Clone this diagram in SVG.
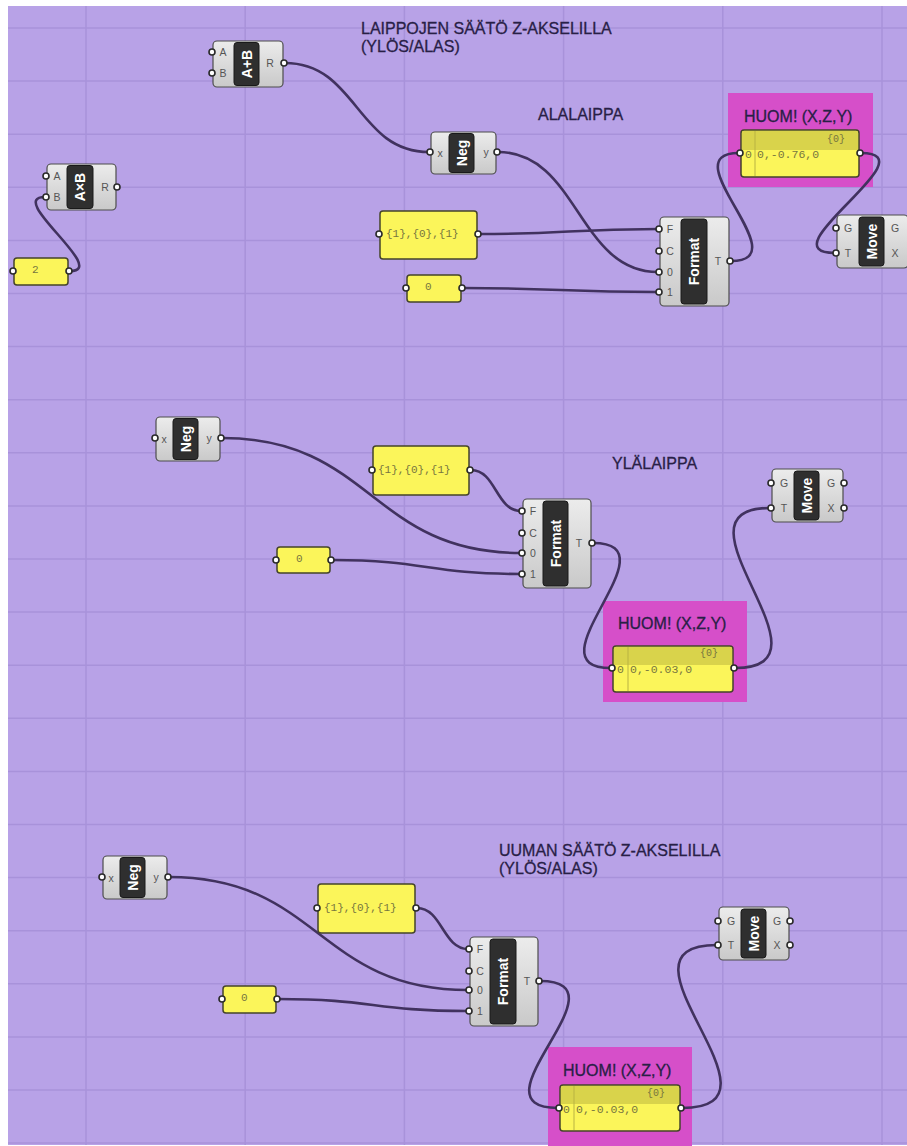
<svg xmlns="http://www.w3.org/2000/svg" width="907" height="1146" viewBox="0 0 907 1146">
<defs>
<linearGradient id="gb" x1="0" y1="0" x2="0" y2="1">
<stop offset="0" stop-color="#ececec"/>
<stop offset="1" stop-color="#c9c9c9"/>
</linearGradient>
<style>
.bg{fill:#b8a2e7}
.grid{stroke:#a892da;stroke-width:1.5;fill:none}
.wire{fill:none;stroke:#41325f;stroke-width:2.6;stroke-linecap:round}
.body{fill:url(#gb);stroke:#4d4d4d;stroke-width:1.2}
.core{fill:#2f2f2f;stroke:#1a1a1a;stroke-width:1}
.name{fill:#ffffff;font-family:"Liberation Sans",Arial,sans-serif;font-weight:bold;font-size:14px;text-anchor:middle;dominant-baseline:central}
.lbl{fill:#555555;font-family:"Liberation Sans",Arial,sans-serif;font-size:10.5px;text-anchor:middle;dominant-baseline:central}
.port{fill:#ffffff;stroke:#2a2a2a;stroke-width:1.6}
.panel{fill:#fbf55a;stroke:#44442a;stroke-width:1.5}
.strip{fill:#d9d34b}
.sep{stroke:#b9b343;stroke-width:1}
.ptxt{fill:#77753f;font-family:"Liberation Mono","Courier New",monospace;font-size:11px;dominant-baseline:central}
.ptxs{fill:#77753f;font-family:"Liberation Mono","Courier New",monospace;font-size:11.5px}
.ptxm{fill:#77753f;font-family:"Liberation Mono","Courier New",monospace;font-size:10px}
.grp{fill:#d64fc9}
.title{fill:#282046;stroke:#282046;stroke-width:0.3;font-family:"Liberation Sans",Arial,sans-serif;font-size:16px}
</style>
</defs>
<rect x="0" y="0" width="907" height="1146" fill="#ffffff"/>
<rect class="bg" x="8" y="6" width="899" height="1139"/>
<g id="grid">
<path class="grid" d="M8,28H907M8,81.1H907M8,134.2H907M8,187.3H907M8,240.4H907M8,293.5H907M8,346.6H907M8,399.7H907M8,452.8H907M8,505.9H907M8,559H907M8,612.1H907M8,665.2H907M8,718.3H907M8,771.4H907M8,824.5H907M8,877.6H907M8,930.7H907M8,983.8H907M8,1036.9H907M8,1090H907M8,1143.1H907"/>
<path class="grid" d="M86,6V1145M245.2,6V1145M404.4,6V1145M563.6,6V1145M722.8,6V1145M882,6V1145"/>
</g>

<g id="labels">
<text class="title" x="361" y="34">LAIPPOJEN SÄÄTÖ Z-AKSELILLA</text>
<text class="title" x="361" y="52">(YLÖS/ALAS)</text>
<text class="title" x="538" y="120">ALALAIPPA</text>
<text class="title" x="612" y="469">YLÄLAIPPA</text>
<text class="title" x="499" y="856">UUMAN SÄÄTÖ Z-AKSELILLA</text>
<text class="title" x="499" y="874">(YLÖS/ALAS)</text>
</g>

<g id="huom-groups">
<g id="huom1-group"><rect class="grp" x="728" y="93" width="145" height="94"/><text class="title" x="744" y="122">HUOM! (X,Z,Y)</text></g>
<g id="huom2-group"><rect class="grp" x="603" y="601" width="144" height="101"/><text class="title" x="618" y="629">HUOM! (X,Z,Y)</text></g>
<g id="huom3-group"><rect class="grp" x="548" y="1047" width="144" height="99"/><text class="title" x="563" y="1076">HUOM! (X,Z,Y)</text></g>
</g>

<g id="connectors">
<path class="wire" d="M70,271 C110,271 5,197 45,197"/>
<path class="wire" d="M285,63 C357,63 357,152 429,152"/>
<path class="wire" d="M498,152 C578,152 578,272 658,272"/>
<path class="wire" d="M479,234 C568,234 569,229 658,229"/>
<path class="wire" d="M463,288 C560,288 561,292 658,292"/>
<path class="wire" d="M731,261 C801,261 669,153 739,153"/>
<path class="wire" d="M861,153 C933,153 763,253 835,253"/>
<path class="wire" d="M222,438 C372,438 371,553 521,553"/>
<path class="wire" d="M471,470 C496,470 496,511 521,511"/>
<path class="wire" d="M332,560 C427,560 426,574 521,574"/>
<path class="wire" d="M593,543 C678,543 526,668 611,668"/>
<path class="wire" d="M735,668 C845,668 660,508 770,508"/>
<path class="wire" d="M169,877 C319,877 318,990 468,990"/>
<path class="wire" d="M417,908 C442,908 443,949 468,949"/>
<path class="wire" d="M278,999 C373,999 373,1011 468,1011"/>
<path class="wire" d="M540,981 C632,981 466,1108 558,1108"/>
<path class="wire" d="M682,1108 C800,1108 599,945 717,945"/>
</g>

<!-- TOP SECTION -->
<g id="axb">
<rect class="body" x="47" y="164" width="69" height="46" rx="4"/>
<rect class="core" x="67" y="165.5" width="26" height="43" rx="3"/>
<text class="name" transform="translate(80,187) rotate(-90)">A×B</text>
<text class="lbl" x="57" y="176">A</text><text class="lbl" x="57" y="197">B</text><text class="lbl" x="105" y="187">R</text>
<circle class="port" cx="46" cy="176" r="3"/><circle class="port" cx="46" cy="197" r="3"/><circle class="port" cx="117" cy="187" r="3"/>
</g>
<g id="aplusb">
<rect class="body" x="213" y="41" width="70" height="46" rx="4"/>
<rect class="core" x="234" y="42.5" width="25" height="43" rx="3"/>
<text class="name" transform="translate(246.5,64) rotate(-90)">A+B</text>
<text class="lbl" x="223" y="52">A</text><text class="lbl" x="223" y="73">B</text><text class="lbl" x="270" y="63">R</text>
<circle class="port" cx="212" cy="52" r="3"/><circle class="port" cx="212" cy="73" r="3"/><circle class="port" cx="284" cy="63" r="3"/>
</g>
<g id="panel-2">
<rect class="panel" x="14" y="258" width="54" height="27" rx="3"/>
<text class="ptxt" x="32" y="270">2</text>
<circle class="port" cx="13" cy="271" r="3"/><circle class="port" cx="69" cy="271" r="3"/>
</g>
<g id="neg1">
<rect class="body" x="431" y="132" width="65" height="42" rx="4"/>
<rect class="core" x="449" y="133.5" width="25" height="39" rx="3"/>
<text class="name" transform="translate(461.5,153) rotate(-90)">Neg</text>
<text class="lbl" x="440" y="153">x</text><text class="lbl" x="486" y="152">y</text>
<circle class="port" cx="430" cy="152" r="3"/><circle class="port" cx="497" cy="152" r="3"/>
</g>
<g id="panel-fmt1">
<rect class="panel" x="380" y="211" width="97" height="48" rx="3"/>
<text class="ptxt" x="386" y="234">{1},{0},{1}</text>
<circle class="port" cx="379" cy="234" r="3"/><circle class="port" cx="478" cy="234" r="3"/>
</g>
<g id="panel-0a">
<rect class="panel" x="407" y="275" width="54" height="27" rx="3"/>
<text class="ptxt" x="425" y="287">0</text>
<circle class="port" cx="406" cy="288" r="3"/><circle class="port" cx="462" cy="288" r="3"/>
</g>
<g id="format1">
<rect class="body" x="660" y="217" width="69" height="89" rx="4"/>
<rect class="core" x="681" y="219" width="26" height="85" rx="3"/>
<text class="name" transform="translate(694,261.5) rotate(-90)">Format</text>
<text class="lbl" x="670" y="229">F</text><text class="lbl" x="670" y="251">C</text><text class="lbl" x="670" y="272">0</text><text class="lbl" x="670" y="292">1</text>
<text class="lbl" x="718" y="261">T</text>
<circle class="port" cx="659" cy="229" r="3"/><circle class="port" cx="659" cy="251" r="3"/><circle class="port" cx="659" cy="272" r="3"/><circle class="port" cx="659" cy="292" r="3"/>
<circle class="port" cx="730" cy="261" r="3"/>
</g>
<g id="huom1-panel">
<rect class="panel" x="741" y="130" width="118" height="47" rx="3"/>
<path class="strip" d="M742,133 a2,2 0 0 1 2,-2 H856 a2,2 0 0 1 2,2 V150 H742Z"/>
<line class="sep" x1="755" y1="131" x2="755" y2="176"/>
<text class="ptxm" x="827" y="142">{0}</text>
<text class="ptxs" x="745" y="158">0</text><text class="ptxs" x="757" y="158">0,-0.76,0</text>
<circle class="port" cx="740" cy="153" r="3"/><circle class="port" cx="860" cy="153" r="3"/>
</g>
<g id="move1">
<rect class="body" x="837" y="215" width="71" height="53" rx="4"/>
<rect class="core" x="859" y="217" width="25" height="49" rx="3"/>
<text class="name" transform="translate(871.5,241.5) rotate(-90)">Move</text>
<text class="lbl" x="848" y="228">G</text><text class="lbl" x="848" y="253">T</text>
<text class="lbl" x="895" y="228">G</text><text class="lbl" x="895" y="253">X</text>
<circle class="port" cx="836" cy="228" r="3"/><circle class="port" cx="836" cy="253" r="3"/>
</g>

<!-- MIDDLE SECTION -->
<g id="neg2">
<rect class="body" x="156" y="417" width="64" height="44" rx="4"/>
<rect class="core" x="173" y="418.5" width="25" height="41" rx="3"/>
<text class="name" transform="translate(185.5,439) rotate(-90)">Neg</text>
<text class="lbl" x="164" y="439">x</text><text class="lbl" x="209" y="438">y</text>
<circle class="port" cx="155" cy="438" r="3"/><circle class="port" cx="221" cy="438" r="3"/>
</g>
<g id="panel-fmt2">
<rect class="panel" x="373" y="446" width="96" height="49" rx="3"/>
<text class="ptxt" x="378" y="470">{1},{0},{1}</text>
<circle class="port" cx="372" cy="470" r="3"/><circle class="port" cx="470" cy="470" r="3"/>
</g>
<g id="panel-0b">
<rect class="panel" x="277" y="547" width="53" height="26" rx="3"/>
<text class="ptxt" x="296" y="559">0</text>
<circle class="port" cx="276" cy="560" r="3"/><circle class="port" cx="331" cy="560" r="3"/>
</g>
<g id="format2">
<rect class="body" x="523" y="499" width="68" height="89" rx="4"/>
<rect class="core" x="543" y="501" width="25" height="85" rx="3"/>
<text class="name" transform="translate(555.5,543.5) rotate(-90)">Format</text>
<text class="lbl" x="533" y="511">F</text><text class="lbl" x="533" y="533">C</text><text class="lbl" x="533" y="553">0</text><text class="lbl" x="533" y="574">1</text>
<text class="lbl" x="579" y="543">T</text>
<circle class="port" cx="522" cy="511" r="3"/><circle class="port" cx="522" cy="533" r="3"/><circle class="port" cx="522" cy="553" r="3"/><circle class="port" cx="522" cy="574" r="3"/>
<circle class="port" cx="592" cy="543" r="3"/>
</g>
<g id="huom2-panel">
<rect class="panel" x="613" y="646" width="120" height="46" rx="3"/>
<path class="strip" d="M614,649 a2,2 0 0 1 2,-2 H730 a2,2 0 0 1 2,2 V665 H614Z"/>
<line class="sep" x1="628" y1="647" x2="628" y2="691"/>
<text class="ptxm" x="700" y="656">{0}</text>
<text class="ptxs" x="617" y="673">0</text><text class="ptxs" x="630" y="673">0,-0.03,0</text>
<circle class="port" cx="612" cy="668" r="3"/><circle class="port" cx="734" cy="668" r="3"/>
</g>
<g id="move2">
<rect class="body" x="772" y="469" width="71" height="53" rx="4"/>
<rect class="core" x="794" y="471" width="25" height="49" rx="3"/>
<text class="name" transform="translate(806.5,495.5) rotate(-90)">Move</text>
<text class="lbl" x="784" y="483">G</text><text class="lbl" x="784" y="508">T</text>
<text class="lbl" x="831" y="483">G</text><text class="lbl" x="831" y="508">X</text>
<circle class="port" cx="771" cy="483" r="3"/><circle class="port" cx="771" cy="508" r="3"/>
<circle class="port" cx="844" cy="483" r="3"/><circle class="port" cx="844" cy="508" r="3"/>
</g>

<!-- BOTTOM SECTION -->
<g id="neg3">
<rect class="body" x="103" y="856" width="64" height="43" rx="4"/>
<rect class="core" x="120" y="857.5" width="25" height="40" rx="3"/>
<text class="name" transform="translate(132.5,877.5) rotate(-90)">Neg</text>
<text class="lbl" x="111" y="878">x</text><text class="lbl" x="156" y="877">y</text>
<circle class="port" cx="102" cy="877" r="3"/><circle class="port" cx="168" cy="877" r="3"/>
</g>
<g id="panel-fmt3">
<rect class="panel" x="318" y="884" width="97" height="49" rx="3"/>
<text class="ptxt" x="324" y="908">{1},{0},{1}</text>
<circle class="port" cx="317" cy="908" r="3"/><circle class="port" cx="416" cy="908" r="3"/>
</g>
<g id="panel-0c">
<rect class="panel" x="223" y="986" width="53" height="27" rx="3"/>
<text class="ptxt" x="241" y="998">0</text>
<circle class="port" cx="222" cy="999" r="3"/><circle class="port" cx="277" cy="999" r="3"/>
</g>
<g id="format3">
<rect class="body" x="470" y="937" width="68" height="89" rx="4"/>
<rect class="core" x="490" y="939" width="26" height="85" rx="3"/>
<text class="name" transform="translate(503,981.5) rotate(-90)">Format</text>
<text class="lbl" x="480" y="949">F</text><text class="lbl" x="480" y="971">C</text><text class="lbl" x="480" y="990">0</text><text class="lbl" x="480" y="1011">1</text>
<text class="lbl" x="527" y="981">T</text>
<circle class="port" cx="469" cy="949" r="3"/><circle class="port" cx="469" cy="971" r="3"/><circle class="port" cx="469" cy="990" r="3"/><circle class="port" cx="469" cy="1011" r="3"/>
<circle class="port" cx="539" cy="981" r="3"/>
</g>
<g id="huom3-panel">
<rect class="panel" x="560" y="1085" width="120" height="46" rx="3"/>
<path class="strip" d="M561,1088 a2,2 0 0 1 2,-2 H677 a2,2 0 0 1 2,2 V1104 H561Z"/>
<line class="sep" x1="574" y1="1086" x2="574" y2="1130"/>
<text class="ptxm" x="647" y="1096">{0}</text>
<text class="ptxs" x="563" y="1113">0</text><text class="ptxs" x="576" y="1113">0,-0.03,0</text>
<circle class="port" cx="559" cy="1108" r="3"/><circle class="port" cx="681" cy="1108" r="3"/>
</g>
<g id="move3">
<rect class="body" x="719" y="907" width="70" height="53" rx="4"/>
<rect class="core" x="741" y="909" width="25" height="49" rx="3"/>
<text class="name" transform="translate(753.5,933.5) rotate(-90)">Move</text>
<text class="lbl" x="731" y="921">G</text><text class="lbl" x="731" y="945">T</text>
<text class="lbl" x="777" y="921">G</text><text class="lbl" x="777" y="945">X</text>
<circle class="port" cx="718" cy="921" r="3"/><circle class="port" cx="718" cy="945" r="3"/>
<circle class="port" cx="790" cy="921" r="3"/><circle class="port" cx="790" cy="945" r="3"/>
</g>
</svg>
